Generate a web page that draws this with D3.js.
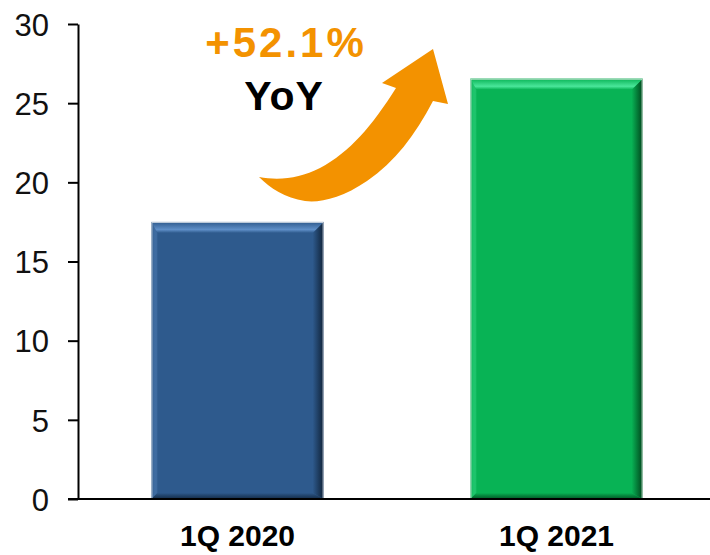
<!DOCTYPE html>
<html>
<head>
<title>1Q YoY</title>
<script src="https://d3js.org/d3.v7.min.js"></script>
<style>
  body { margin: 0; background: #fff; }
  svg { display: block; }
  .tick text { font-family: "Liberation Sans", Arial, sans-serif; }
</style>
</head>
<body>
<div id="chart"></div>
<script>
const categories = ["1Q 2020", "1Q 2021"];
const values = [17.5, 26.55];
const yTicks = [0, 5, 10, 15, 20, 25, 30];
const growthLabel = "+52.1%";
const growthSub = "YoY";

const W = 710, H = 555;
const margin = { top: 24, left: 78, bottom: 56 };

// colour sets for the bevelled bars
const barStyles = [
  { main: "#2e5a8d", light: "#5f8fc8", dark: "#0f2238", edge: "#c9d3df" },
  { main: "#08b355", light: "#4ae69a", dark: "#00461c", edge: "#cfe3d6" }
];

const svg = d3.select("#chart").append("svg")
  .attr("width", W)
  .attr("height", H);

const x = d3.scaleBand()
  .domain(categories)
  .range([margin.left, 716])
  .paddingInner(0.46)
  .paddingOuter(0.23);

const y = d3.scaleLinear()
  .domain([0, 30])
  .range([H - margin.bottom, margin.top]);

const defs = svg.append("defs");
barStyles.forEach((s, i) => {
  const top = defs.append("linearGradient").attr("id", "top" + i)
    .attr("x1", 0).attr("y1", 0).attr("x2", 0).attr("y2", 1);
  top.append("stop").attr("offset", 0).attr("stop-color", s.main);
  top.append("stop").attr("offset", 0.7).attr("stop-color", s.light);
  top.append("stop").attr("offset", 1).attr("stop-color", s.main);

  const right = defs.append("linearGradient").attr("id", "right" + i)
    .attr("x1", 0).attr("y1", 0).attr("x2", 1).attr("y2", 0);
  right.append("stop").attr("offset", 0).attr("stop-color", s.main);
  right.append("stop").attr("offset", 1).attr("stop-color", s.dark);

  const bottom = defs.append("linearGradient").attr("id", "bottom" + i)
    .attr("x1", 0).attr("y1", 0).attr("x2", 0).attr("y2", 1);
  bottom.append("stop").attr("offset", 0).attr("stop-color", s.main);
  bottom.append("stop").attr("offset", 1).attr("stop-color", s.dark).attr("stop-opacity", 0.8);

  const left = defs.append("linearGradient").attr("id", "left" + i)
    .attr("x1", 0).attr("y1", 0).attr("x2", 1).attr("y2", 0);
  left.append("stop").attr("offset", 0).attr("stop-color", s.main);
  left.append("stop").attr("offset", 1).attr("stop-color", s.light).attr("stop-opacity", 0.25);
});

const bars = categories.map((c, i) => ({ cat: c, value: values[i], i: i }));
const bevel = 11;

const g = svg.selectAll("g.bar")
  .data(bars)
  .join("g")
  .attr("class", "bar");

g.each(function(d) {
  const s = barStyles[d.i];
  const x0 = x(d.cat), x1 = x0 + x.bandwidth();
  const y0 = y(d.value), y1 = y(0);
  const b = bevel;
  const sel = d3.select(this);
  sel.append("rect")
    .attr("x", x0).attr("y", y0)
    .attr("width", x1 - x0).attr("height", y1 - y0)
    .attr("fill", s.main);
  const poly = (pts, fill) => sel.append("polygon")
    .attr("points", pts.map(p => p.join(",")).join(" "))
    .attr("fill", fill);
  poly([[x0, y0], [x0 + 6, y0 + b], [x0 + 6, y1 - 6], [x0, y1]], `url(#left${d.i})`);
  poly([[x0, y1], [x1, y1], [x1 - b, y1 - 6], [x0 + 6, y1 - 6]], `url(#bottom${d.i})`);
  poly([[x1, y0], [x1, y1], [x1 - b, y1 - 6], [x1 - b, y0 + b]], `url(#right${d.i})`);
  poly([[x0, y0], [x1, y0], [x1 - b, y0 + b], [x0 + 6, y0 + b]], `url(#top${d.i})`);
  sel.append("rect")
    .attr("x", x0 + 0.5).attr("y", y0 + 0.5)
    .attr("width", x1 - x0 - 1).attr("height", y1 - y0 - 1)
    .attr("fill", "none")
    .attr("stroke", s.edge)
    .attr("stroke-width", 1);
});

// y axis
const yAxis = svg.append("g")
  .attr("transform", `translate(${margin.left},0)`)
  .call(d3.axisLeft(y).tickValues(yTicks).tickSize(10).tickSizeOuter(0).tickPadding(19));
yAxis.select(".domain").attr("stroke", "#000").attr("stroke-width", 2);
yAxis.selectAll(".tick line").attr("stroke", "#000").attr("stroke-width", 2);
yAxis.selectAll(".tick text")
  .attr("font-size", 31)
  .attr("fill", "#111")
  .attr("dy", "0.36em");

// x axis baseline
svg.append("line")
  .attr("x1", margin.left - 10).attr("x2", W)
  .attr("y1", y(0)).attr("y2", y(0))
  .attr("stroke", "#000").attr("stroke-width", 2);

svg.selectAll("text.cat")
  .data(categories)
  .join("text")
  .attr("class", "cat")
  .attr("x", d => x(d) + x.bandwidth() / 2)
  .attr("y", 546)
  .attr("text-anchor", "middle")
  .attr("font-family", "Liberation Sans, Arial, sans-serif")
  .attr("font-weight", "bold")
  .attr("font-size", 30)
  .attr("fill", "#000")
  .text(d => d);

// growth arrow
const orange = "#f39200";
svg.append("path")
  .attr("d", "M259,177 C280,181 300,178 320,168 C350,152 372,126 396,88 L382,83 L433,49 L448,104 L433,101 C415,135 395,162 367,181 C342,198 320,203 305,201 C285,198 270,188 259,177 Z")
  .attr("fill", orange);

svg.append("text")
  .attr("x", 286).attr("y", 57)
  .attr("text-anchor", "middle")
  .attr("font-family", "Liberation Sans, Arial, sans-serif")
  .attr("font-weight", "bold")
  .attr("font-size", 42)
  .attr("letter-spacing", 3)
  .attr("fill", orange)
  .text(growthLabel);

svg.append("text")
  .attr("x", 284).attr("y", 110)
  .attr("text-anchor", "middle")
  .attr("font-family", "Liberation Sans, Arial, sans-serif")
  .attr("font-weight", "bold")
  .attr("font-size", 41)
  .attr("letter-spacing", 1)
  .attr("fill", "#000")
  .text(growthSub);
</script>
</body>
</html>
